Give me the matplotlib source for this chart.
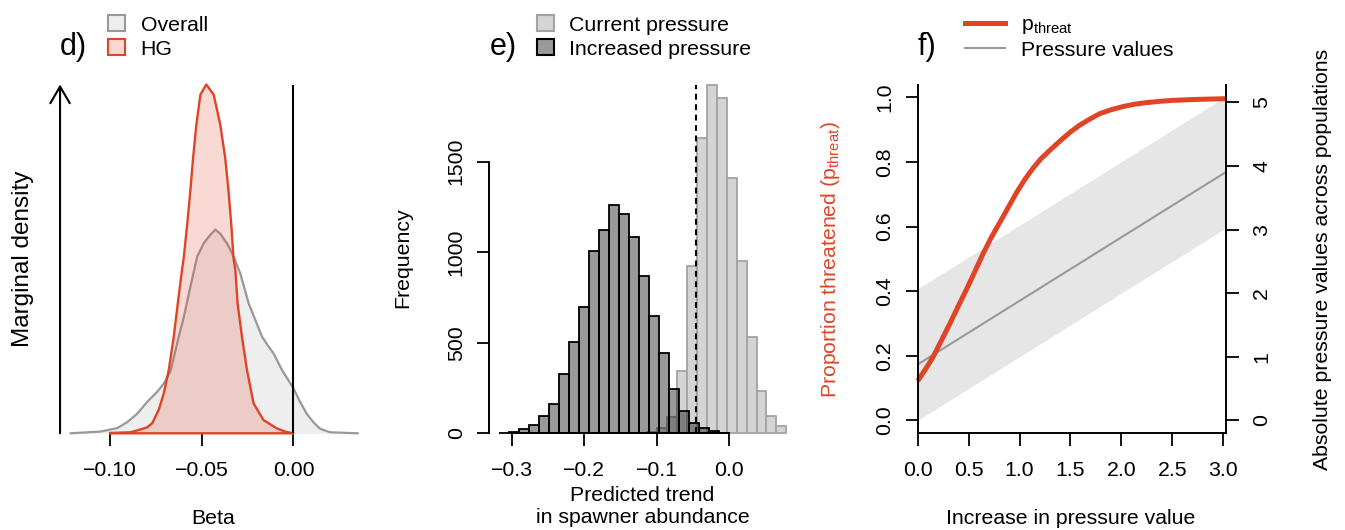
import numpy as np
import matplotlib
matplotlib.use('Agg')
import matplotlib.pyplot as plt
from matplotlib.patches import Patch
from matplotlib.lines import Line2D

FS = 15.3
plt.rcParams['font.family'] = ['Liberation Sans', 'DejaVu Sans']
plt.rcParams['mathtext.default'] = 'regular'
plt.rcParams['font.size'] = FS

# ---- data ----
# d) marginal density of beta (relative heights read off the picture)
overall_beta = [-0.1212, -0.1049, -0.0958, -0.0904, -0.0850, -0.0796, -0.0741, -0.0705,
                -0.0669, -0.0624, -0.0597, -0.0561, -0.0524, -0.0488, -0.0452, -0.0425,
                -0.0398, -0.0362, -0.0325, -0.0289, -0.0244, -0.0171, -0.0136, -0.0109,
                -0.0063, 0.0, 0.0036, 0.0072, 0.0108, 0.0145, 0.0199, 0.0349]
overall_dens = [0.0, 0.005, 0.015, 0.032, 0.056, 0.090, 0.119, 0.143,
                0.177, 0.277, 0.332, 0.419, 0.506, 0.545, 0.569, 0.584,
                0.572, 0.545, 0.506, 0.458, 0.373, 0.277, 0.249, 0.230,
                0.182, 0.129, 0.090, 0.056, 0.032, 0.013, 0.003, 0.0]
hg_beta = [-0.0995, -0.0886, -0.0832, -0.0796, -0.0768, -0.0733, -0.0705, -0.0678,
           -0.0651, -0.0629, -0.0606, -0.0597, -0.0578, -0.0561, -0.0546, -0.0528,
           -0.0506, -0.0474, -0.0434, -0.0398, -0.0371, -0.0353, -0.0338, -0.0326,
           -0.0316, -0.0304, -0.0280, -0.0253, -0.0217, -0.0163, -0.0090, -0.0040, 0.0]
hg_dens = [0.001, 0.003, 0.011, 0.017, 0.029, 0.067, 0.115, 0.182,
           0.277, 0.373, 0.469, 0.502, 0.598, 0.694, 0.789, 0.885,
           0.971, 1.0, 0.971, 0.885, 0.789, 0.694, 0.598, 0.502,
           0.469, 0.373, 0.277, 0.182, 0.086, 0.038, 0.014, 0.004, 0.0]

# e) histograms of predicted trend
bin_width = 0.01377
current_start = -0.1135
current_counts = [5, 28, 90, 343, 923, 1633, 1927, 1854, 1408, 951, 531, 236, 95, 40]
increased_start = -0.3173
increased_counts = [3, 9, 24, 46, 95, 162, 329, 504, 700, 1009, 1121, 1263, 1210,
                    1082, 870, 650, 443, 245, 121, 57, 29, 10, 4]
threshold = -0.0456

# f) proportion threatened vs increase in pressure
incr = [0.0, 0.10, 0.15, 0.20, 0.32, 0.40, 0.48, 0.56, 0.64, 0.72, 0.81, 0.89,
        0.97, 1.05, 1.13, 1.21, 1.30, 1.40, 1.50, 1.59, 1.69, 1.79, 1.90, 2.02,
        2.13, 2.25, 2.38, 2.51, 2.75, 3.02]
p_threat = [0.122, 0.170, 0.196, 0.227, 0.302, 0.355, 0.406, 0.460, 0.515, 0.565,
            0.615, 0.660, 0.705, 0.745, 0.780, 0.810, 0.837, 0.866, 0.893, 0.914,
            0.933, 0.950, 0.962, 0.972, 0.979, 0.984, 0.988, 0.991, 0.994, 0.996]
press_x = [0.0, 3.02]
press_mean = [0.88, 3.90]
press_lo = [0.0, 3.02]
press_hi = [2.07, 5.09]

RED = '#E04426'
W, H = 1345, 530


def fx(px):
    return px / W


def fy(py):
    return 1 - py / H


def panel(left, right, top=84.5, bottom=433.3):
    return fig.add_axes([fx(left), fy(bottom), (right - left) / W, (bottom - top) / H])


def style_ticks(ax):
    ax.tick_params(direction='out', length=9, width=1.3, labelsize=FS)
    for s in ax.spines.values():
        s.set_linewidth(1.4)


def legend_at(ax, handles, left_px, **kw):
    ax.legend(handles=handles, loc='upper left', bbox_to_anchor=(fx(left_px), fy(15)),
              bbox_transform=fig.transFigure, frameon=False, borderpad=0,
              borderaxespad=0, handletextpad=0.72, labelspacing=0.22, fontsize=FS, **kw)


fig = plt.figure(figsize=(13.45, 5.30), dpi=100)

# ---------------- d) ----------------
ax_d = panel(58.5, 369)
ax_d.fill_between(overall_beta, overall_dens, color='#eeeeee', zorder=3)
ax_d.plot(overall_beta, overall_dens, color='#999999', lw=1.6, zorder=3.1, clip_on=False)
ax_d.fill(hg_beta + [hg_beta[0]], hg_dens + [0.0], facecolor=RED, alpha=0.2, zorder=3.2)
ax_d.plot(hg_beta + [hg_beta[0]], hg_dens + [0.0], color=RED, lw=1.7, zorder=3.3, clip_on=False)
ax_d.axvline(0, color='black', lw=1.5, zorder=4)
ax_d.set_xlim(-0.1278, 0.0411)
ax_d.set_ylim(0, max(hg_dens))
for s in ['left', 'top', 'right']:
    ax_d.spines[s].set_visible(False)
style_ticks(ax_d)
ax_d.spines['bottom'].set_bounds(-0.10, 0.0)
ax_d.set_yticks([])
ax_d.set_xticks([-0.10, -0.05, 0.0])
ax_d.set_xticklabels(['\u22120.10', '\u22120.05', '0.00'])
ax_d.tick_params(axis='x', pad=11)
ax_d.annotate('', xy=(0.005, 1.0), xytext=(0.005, 0.0), xycoords='axes fraction',
              arrowprops=dict(arrowstyle='->, head_length=0.6, head_width=0.35',
                              lw=1.5, color='black', shrinkA=0, shrinkB=0,
                              mutation_scale=20))
legend_at(ax_d, [Patch(facecolor='#eeeeee', edgecolor='#999999', lw=1.5, label='Overall'),
                 Patch(facecolor='#f8d8d1', edgecolor=RED, lw=1.5, label='HG')],
          108.3, handlelength=0.8, handleheight=0.8)

# ---------------- e) ----------------
ax_e = panel(489.3, 797.5)
cur_edges = current_start + bin_width * np.arange(len(current_counts) + 1)
inc_edges = increased_start + bin_width * np.arange(len(increased_counts) + 1)
ax_e.hist(cur_edges[:-1], bins=cur_edges, weights=current_counts,
          facecolor='#d4d4d4', edgecolor='#a3a3a3', lw=1.3, clip_on=False)
ax_e.hist(inc_edges[:-1], bins=inc_edges, weights=increased_counts,
          facecolor=(0, 0, 0, 0.4), edgecolor='black', lw=1.3, clip_on=False)
ax_e.axvline(threshold, color='black', lw=1.5, dashes=(2.8, 2.2))
ax_e.set_xlim(-0.3311, 0.0946)
ax_e.set_ylim(0, max(current_counts))
for s in ['top', 'right']:
    ax_e.spines[s].set_visible(False)
style_ticks(ax_e)
ax_e.spines['left'].set_bounds(0, 1500)
ax_e.spines['bottom'].set_bounds(-0.3, 0.0)
ax_e.set_xticks([-0.3, -0.2, -0.1, 0.0])
ax_e.set_xticklabels(['\u22120.3', '\u22120.2', '\u22120.1', '0.0'])
ax_e.set_yticks([0, 500, 1000, 1500])
ax_e.set_yticklabels(['0', '500', '1000', '1500'], rotation=90, va='center')
ax_e.tick_params(axis='x', pad=11)
ax_e.tick_params(axis='y', pad=8)
legend_at(ax_e, [Patch(facecolor='#d4d4d4', edgecolor='#a3a3a3', lw=1.5, label='Current pressure'),
                 Patch(facecolor='#999999', edgecolor='black', lw=1.5, label='Increased pressure')],
          536.7, handlelength=0.8, handleheight=0.8)

# ---------------- f) ----------------
ax_f = panel(917.7, 1225.7)
ax_f2 = ax_f.twinx()
ax_f2.fill_between(press_x, press_lo, press_hi, color='#e6e6e6', lw=0)
ax_f2.plot(press_x, press_mean, color='#999999', lw=1.5)
ax_f.plot(incr, p_threat, color=RED, lw=3.6, solid_capstyle='butt',
          solid_joinstyle='round', clip_on=False)
ax_f.set_zorder(ax_f2.get_zorder() + 1)
ax_f.patch.set_visible(False)
ax_f.set_xlim(0, 3.024)
ax_f.set_ylim(-0.04, 1.04)
ax_f2.set_ylim(-0.203, 5.283)
ax_f.spines['top'].set_visible(False)
ax_f.spines['right'].set_visible(False)
for s in ['top', 'left', 'bottom']:
    ax_f2.spines[s].set_visible(False)
style_ticks(ax_f)
style_ticks(ax_f2)
ax_f.set_xticks([0, 0.5, 1.0, 1.5, 2.0, 2.5, 3.0])
ax_f.set_xticklabels(['0.0', '0.5', '1.0', '1.5', '2.0', '2.5', '3.0'])
ax_f.set_yticks([0, 0.2, 0.4, 0.6, 0.8, 1.0])
ax_f.set_yticklabels(['0.0', '0.2', '0.4', '0.6', '0.8', '1.0'], rotation=90, va='center')
ax_f2.set_yticks([0, 1, 2, 3, 4, 5])
ax_f2.set_yticklabels(['0', '1', '2', '3', '4', '5'], rotation=90, va='center')
ax_f.tick_params(axis='x', pad=11)
ax_f.tick_params(axis='y', pad=8)
ax_f2.tick_params(axis='y', pad=10)
legend_at(ax_f, [Line2D([], [], color=RED, lw=3.6, label=r'p$_{threat}$'),
                 Line2D([], [], color='#999999', lw=1.5, label='Pressure values')],
          965, handlelength=1.9)

# ---------------- labels ----------------
fig.text(fx(60), fy(47.5), 'd)', fontsize=22, ha='left', va='center')
fig.text(fx(490), fy(47.5), 'e)', fontsize=22, ha='left', va='center')
fig.text(fx(918), fy(47.5), 'f)', fontsize=22, ha='left', va='center')

fig.text(fx(23.3), fy(259), 'Marginal density', fontsize=17.5, rotation=90,
         ha='center', va='center')
fig.text(fx(213.3), fy(519), 'Beta', ha='center', va='center')
fig.text(fx(403), fy(258), 'Frequency', rotation=90, ha='center', va='center')
fig.text(fx(642.5), fy(495.3), 'Predicted trend', ha='center', va='center')
fig.text(fx(642.5), fy(517.2), 'in spawner abundance', ha='center', va='center')
fig.text(fx(831), fy(260), r'Proportion threatened (p$_{threat}$)', color=RED,
         rotation=90, ha='center', va='center')
fig.text(fx(1323), fy(259.6), 'Absolute pressure values across populations',
         rotation=90, ha='center', va='center')
fig.text(fx(1071), fy(518.3), 'Increase in pressure value', ha='center', va='center')

fig.savefig('out.png', dpi=100)
